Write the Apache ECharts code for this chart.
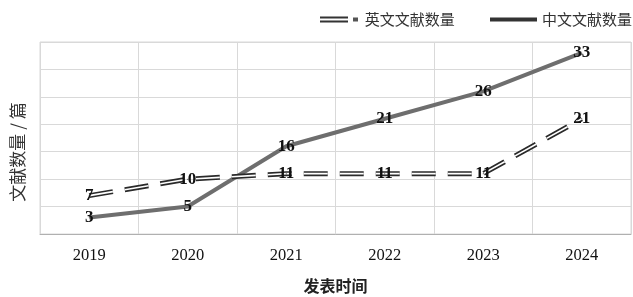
<!DOCTYPE html>
<html><head><meta charset="utf-8">
<script src="https://cdn.jsdelivr.net/npm/echarts@6/dist/echarts.min.js"></script>
<style>html,body{margin:0;padding:0;background:#fff}#c{width:633px;height:297px}</style>
</head><body><div id="c"></div>
<script>
const years = ['2019','2020','2021','2022','2023','2024'];
const enCounts = [7, 10, 11, 11, 11, 21];
const zhCounts = [3, 5, 16, 21, 26, 33];
const enName = '英文文献数量';
const zhName = '中文文献数量';
const yMin = 0, yMax = 35, yStep = 5;

const serif = '"Liberation Serif","Times New Roman",serif';
const cjk = '"Noto Sans CJK SC",sans-serif';
const labelStyle = {show: true, position: 'inside', fontFamily: serif, fontWeight: 'bold', fontSize: 17, color: '#111'};
const dash = [24, 12];

const chart = echarts.init(document.getElementById('c'));
chart.setOption({
  animation: false,
  backgroundColor: '#fff',
  grid: {left: 40, right: 2, top: 42, bottom: 63, show: true, borderColor: '#d9d9d9', borderWidth: 1,
         containLabel: false, outerBoundsMode: 'none'},
  legend: [
    {data: [{name: enName, icon: 'path://M0,0H28V2H0Z M0,4H28V6H0Z'}], left: 315, top: 7, itemWidth: 28, itemHeight: 6, itemGap: 10,
     itemStyle: {color: '#333', borderWidth: 0},
     formatter: function(n){ return '{m|}  ' + n; },
     textStyle: {fontFamily: cjk, fontSize: 15, color: '#333', rich: {m: {width: 5, height: 4, backgroundColor: '#555'}}}},
    {data: [{name: zhName, icon: 'rect'}], left: 485, top: 7, itemWidth: 47, itemHeight: 4, itemGap: 6,
     itemStyle: {color: '#333', borderWidth: 0},
     textStyle: {fontFamily: cjk, fontSize: 15, color: '#333'}}
  ],
  xAxis: {
    type: 'category', data: years, boundaryGap: true,
    name: '发表时间', nameLocation: 'middle', nameGap: 44,
    nameTextStyle: {fontFamily: cjk, fontWeight: 'bold', fontSize: 16, color: '#222'},
    axisLine: {show: true, lineStyle: {color: '#b0b0b0', width: 1}},
    axisTick: {show: false},
    axisLabel: {fontFamily: serif, fontSize: 16.5, color: '#111', margin: 13},
    splitLine: {show: true, lineStyle: {color: '#d9d9d9', width: 1}}
  },
  yAxis: {
    type: 'value', min: yMin, max: yMax, interval: yStep,
    name: '文献数量 / 篇', nameLocation: 'middle', nameGap: 14, nameRotate: 90,
    nameTextStyle: {fontFamily: cjk, fontSize: 17, color: '#333', padding: [0, 28, 0, 0]},
    axisLine: {show: false}, axisTick: {show: false}, axisLabel: {show: false},
    splitLine: {show: true, lineStyle: {color: '#d9d9d9', width: 1}}
  },
  series: [
    {name: zhName, type: 'line', data: zhCounts, symbol: 'circle', symbolSize: 1, showSymbol: true, z: 2,
     lineStyle: {color: '#6e6e6e', width: 4}, itemStyle: {color: '#6e6e6e'},
     label: labelStyle},
    {name: enName, type: 'line', data: enCounts, symbol: 'none', z: 3,
     lineStyle: {color: '#2a2a2a', width: 5, type: dash, cap: 'butt'}, itemStyle: {color: '#333'},
     label: {show: false}},
    {name: 'enInner', type: 'line', data: enCounts, symbol: 'circle', symbolSize: 1, showSymbol: true, z: 4,
     lineStyle: {color: '#ffffff', width: 1.6, type: dash, cap: 'butt'}, itemStyle: {color: '#2a2a2a'},
     label: labelStyle}
  ]
});
</script></body></html>
